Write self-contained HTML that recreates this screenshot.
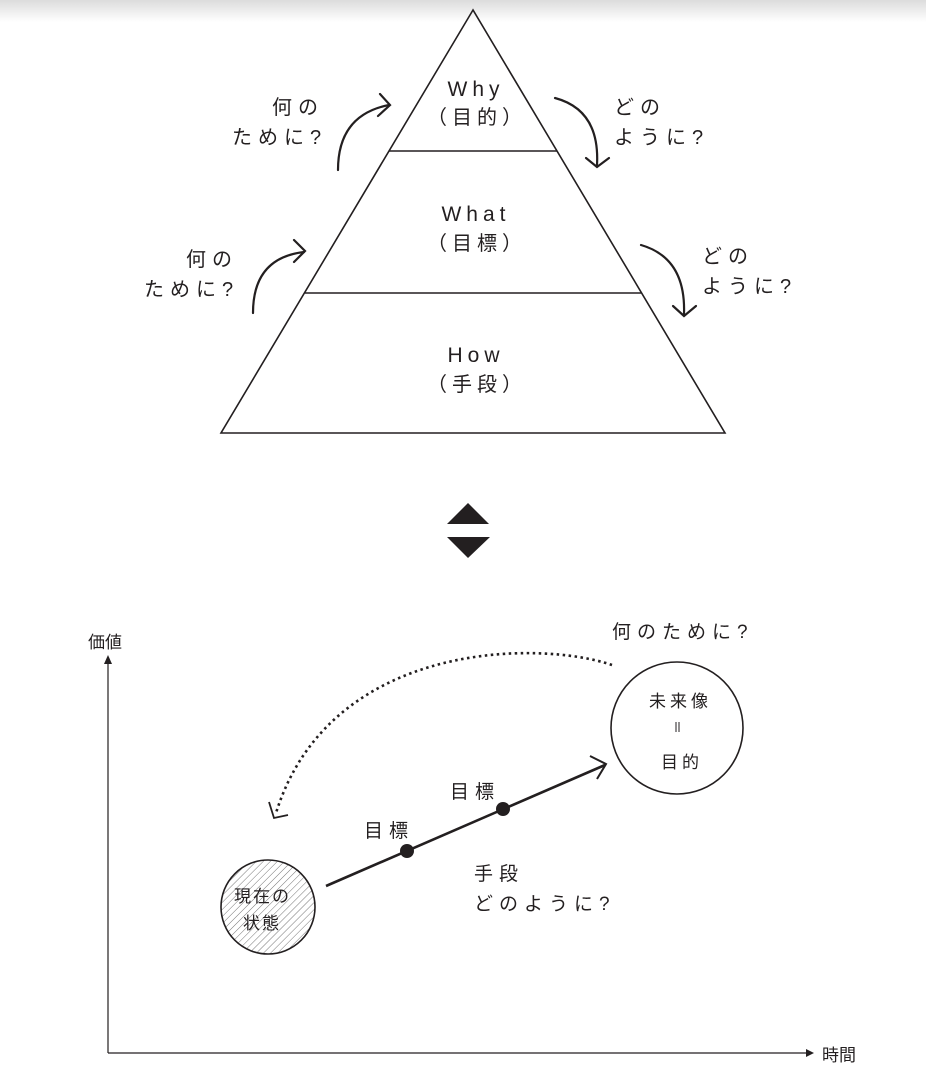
<!DOCTYPE html>
<html><head><meta charset="utf-8"><style>
html,body{margin:0;padding:0;background:#fff;}
svg{display:block;}
text{font-family:"Liberation Sans","Noto Sans CJK JP",sans-serif;fill:#231f20;}
</style></head><body>
<svg width="926" height="1090" viewBox="0 0 926 1090" xmlns="http://www.w3.org/2000/svg">
<defs>
<linearGradient id="g" x1="0" y1="0" x2="0" y2="1"><stop offset="0" stop-color="#dcdcdc"/><stop offset="1" stop-color="#fff"/></linearGradient>
<pattern id="h" width="5" height="5" patternUnits="userSpaceOnUse" patternTransform="rotate(45)"><line x1="0" y1="0" x2="0" y2="5" stroke="#777" stroke-width="1"/></pattern>
</defs>
<rect x="0" y="0" width="926" height="22" fill="url(#g)"/>
<g fill="none" stroke="#231f20" stroke-width="1.6">
<path d="M473 10 L221 433 L725 433 Z"/>
<line x1="389" y1="151" x2="557" y2="151"/>
<line x1="305" y1="293" x2="641" y2="293"/>
</g>
<g font-size="21" text-anchor="middle" letter-spacing="5">
<text x="476" y="96">Why</text>
<text x="476" y="221">What</text>
<text x="476" y="362">How</text>
</g>
<g font-size="20" text-anchor="middle" letter-spacing="5">
<text x="477" y="124">（目的）</text>
<text x="477" y="250">（目標）</text>
<text x="477" y="391">（手段）</text>
</g>
<g fill="none" stroke="#231f20" stroke-width="2.2" stroke-linecap="round">
<path d="M338 170 Q338 115 389 105"/><path d="M380 94 L390 105 L378 116"/>
<path d="M555 98 Q600 110 597 165"/><path d="M586 158 L597 167 L609 158"/>
<path d="M253 313 Q253 258 304 252"/><path d="M294 240 L305 251 L294 262"/>
<path d="M641 245 Q686 258 684 314"/><path d="M673 306 L684 316 L696 306"/>
</g>
<g font-size="20" letter-spacing="6">
<text x="272" y="114">何の</text><text x="232" y="144">ために?</text>
<text x="614" y="114">どの</text><text x="614" y="144">ように?</text>
<text x="186" y="266">何の</text><text x="144" y="296">ために?</text>
<text x="702" y="263">どの</text><text x="702" y="293">ように?</text>
</g>
<path d="M468 503 L489 524 L447 524 Z" fill="#231f20"/>
<path d="M447 537 L490 537 L468 558 Z" fill="#231f20"/>
<g stroke="#231f20" stroke-width="1.2" fill="none">
<line x1="108" y1="663" x2="108" y2="1053"/>
<line x1="108" y1="1053" x2="808" y2="1053"/>
</g>
<path d="M108 655 L104 664 L112 664 Z" fill="#231f20"/>
<path d="M814 1053 L806 1049 L806 1057 Z" fill="#231f20"/>
<g font-size="17">
<text x="88" y="648">価値</text>
<text x="822" y="1061">時間</text>
</g>
<circle cx="268" cy="907" r="47" fill="url(#h)" stroke="#231f20" stroke-width="1.6"/>
<circle cx="677" cy="728" r="66" fill="#fff" stroke="#231f20" stroke-width="1.6"/>
<line x1="326" y1="886" x2="605" y2="765" stroke="#231f20" stroke-width="2.6"/>
<path d="M590 756 L606 764 L597 779" fill="none" stroke="#231f20" stroke-width="2"/>
<circle cx="407" cy="851" r="7" fill="#231f20"/>
<circle cx="503" cy="809" r="7" fill="#231f20"/>
<path d="M612 665 C540 640 330 640 276 813" fill="none" stroke="#231f20" stroke-width="2.6" stroke-dasharray="2.5 3.5"/>
<path d="M269 802 L274 818 L288 815" fill="none" stroke="#231f20" stroke-width="1.8"/>
<g font-size="19" letter-spacing="6">
<text x="612" y="638">何のために?</text>
<text x="364" y="837">目標</text>
<text x="450" y="798">目標</text>
<text x="474" y="880">手段</text>
<text x="474" y="910">どのように?</text>
<text x="234" y="902" font-size="17" letter-spacing="2">現在の</text>
<text x="243" y="929" font-size="17" letter-spacing="2">状態</text>
<text x="649" y="707" font-size="17" letter-spacing="4">未来像</text>
<text x="661" y="768" font-size="17" letter-spacing="4">目的</text>
</g>
<g stroke="#231f20" stroke-width="1"><line x1="676" y1="722" x2="676" y2="732"/><line x1="679" y1="722" x2="679" y2="732"/></g>
</svg>
</body></html>
